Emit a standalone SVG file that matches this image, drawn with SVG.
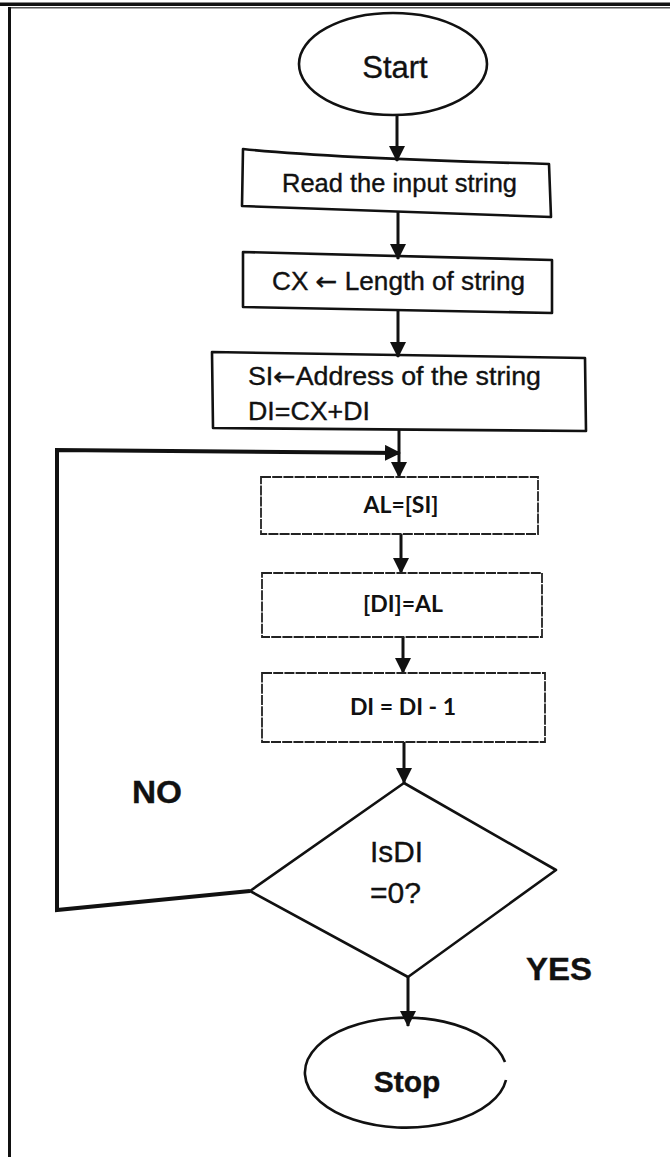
<svg xmlns="http://www.w3.org/2000/svg" width="670" height="1157" viewBox="0 0 670 1157">
<style>
.t{font-family:"Liberation Sans",Arial,sans-serif;fill:#111;stroke:#111;stroke-width:0.35}
.c{font-family:Lato,"Open Sans",sans-serif;fill:#111;font-weight:bold}
.b{font-weight:bold}
.ar{font-family:"DejaVu Sans",sans-serif}
.box{fill:none;stroke:#111;stroke-width:2.6;stroke-linejoin:round}
.thin{fill:none;stroke:#222;stroke-width:1.8;stroke-dasharray:10 1.2}
.ln{fill:none;stroke:#111;stroke-width:3}
.loop{fill:none;stroke:#111;stroke-width:4;stroke-linejoin:miter}
</style>
<defs>
<marker id="ah" markerWidth="16" markerHeight="16" viewBox="0 0 16 16" refX="15" refY="8" orient="auto" markerUnits="userSpaceOnUse">
<path d="M0,0 L16,8 L0,16 Z" fill="#111"/>
</marker>
</defs>
<rect x="0" y="0" width="670" height="1157" fill="#fff"/>
<g id="frame">
<rect x="0" y="2.5" width="670" height="3.5" fill="#111"/>
<line x1="8" y1="7.8" x2="670" y2="7.8" stroke="#555" stroke-width="1.6"/>
<line x1="9.5" y1="7" x2="9.5" y2="1157" stroke="#111" stroke-width="3"/>
</g>
<g id="connectors">
<line class="ln" x1="397" y1="115" x2="397" y2="161" marker-end="url(#ah)"/>
<line class="ln" x1="398" y1="212" x2="398" y2="259" marker-end="url(#ah)"/>
<line class="ln" x1="398" y1="311" x2="398" y2="357" marker-end="url(#ah)"/>
<line class="ln" x1="399" y1="430" x2="399" y2="477" marker-end="url(#ah)"/>
<polyline class="loop" points="250,891 57,910 57,450 400,453" marker-end="url(#ah)"/>
<line class="ln" x1="401" y1="534" x2="401" y2="573" marker-end="url(#ah)"/>
<line class="ln" x1="403" y1="637" x2="403" y2="673" marker-end="url(#ah)"/>
<line class="ln" x1="404" y1="742" x2="404" y2="783" marker-end="url(#ah)"/>
<line class="ln" x1="408" y1="977" x2="408" y2="1026" marker-end="url(#ah)"/>
</g>
<g id="start">
<ellipse class="box" cx="393" cy="64" rx="94" ry="51"/>
<text class="t" x="395" y="78" font-size="31" text-anchor="middle">Start</text>
</g>
<g id="read">
<path class="box" d="M243,149 Q330,158 549,164 L551,217 L242,206 Z"/>
<text class="t" x="282" y="192" font-size="25" textLength="235" lengthAdjust="spacingAndGlyphs">Read the input string</text>
</g>
<g id="length">
<path class="box" d="M243,252 L552,260 L552,313 L243,307 Z"/>
<text class="t" x="272" y="290" font-size="25" textLength="253" lengthAdjust="spacingAndGlyphs">CX <tspan class="ar">←</tspan> Length of string</text>
</g>
<g id="address">
<path class="box" d="M212,352 L585,358 L586,431 L213,428 Z"/>
<text class="t" x="248" y="385" font-size="25" textLength="293" lengthAdjust="spacingAndGlyphs">SI<tspan class="ar">←</tspan>Address of the string</text>
<text class="t" x="248" y="420" font-size="25" textLength="122" lengthAdjust="spacingAndGlyphs">DI=CX+DI</text>
</g>
<g id="load">
<rect class="thin" x="261" y="477" width="277" height="57"/>
<text class="c" x="401" y="513" font-size="23" text-anchor="middle">AL=[SI]</text>
</g>
<g id="store">
<rect class="thin" x="262" y="573" width="280" height="64"/>
<text class="c" x="403" y="612" font-size="23" text-anchor="middle">[DI]=AL</text>
</g>
<g id="decrement">
<rect class="thin" x="262" y="673" width="283" height="69"/>
<text class="c" x="403" y="715" font-size="23" text-anchor="middle">DI = DI - 1</text>
</g>
<g id="decision">
<polygon class="box" points="404,783 556,870 408,977 250,891"/>
<text class="t" x="370" y="862" font-size="30" textLength="53" lengthAdjust="spacingAndGlyphs">IsDI</text>
<text class="t" x="370" y="903" font-size="30" textLength="51" lengthAdjust="spacingAndGlyphs">=0?</text>
</g>
<g id="labels">
<text class="t b" x="132" y="803" font-size="32" textLength="50" lengthAdjust="spacingAndGlyphs">NO</text>
<text class="t b" x="526" y="980" font-size="32" textLength="66" lengthAdjust="spacingAndGlyphs">YES</text>
</g>
<g id="stop">
<path class="box" d="M506,1080 A101,55 0 1 1 505,1062"/>
<text class="t b" x="407" y="1092" font-size="30" text-anchor="middle">Stop</text>
</g>
</svg>
